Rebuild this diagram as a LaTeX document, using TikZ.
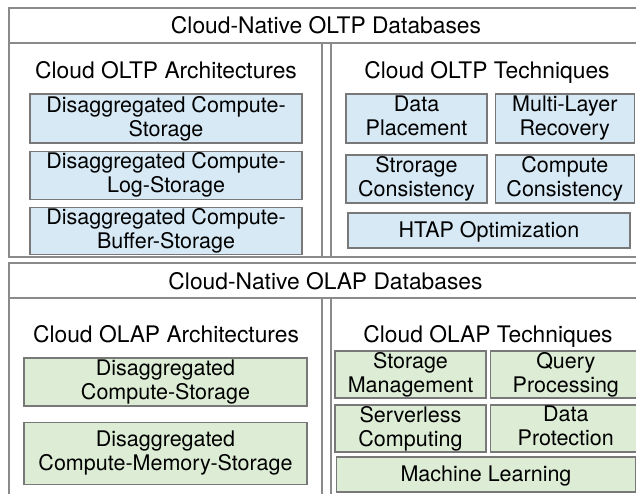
\documentclass[tikz,border=0pt]{standalone}
\usepackage{fontspec}
\setmainfont{TeX Gyre Heros}
\usetikzlibrary{positioning}
\definecolor{framegray}{RGB}{138,138,138}
\definecolor{boxgray}{RGB}{120,120,120}
\definecolor{oltpblue}{RGB}{214,233,245}
\definecolor{olapgreen}{RGB}{221,237,213}

\begin{document}
\begin{tikzpicture}[
  x=1pt, y=-1pt,
  frame/.style={draw=framegray, line width=1.6pt},
  heading/.style={font=\fontsize{22.8}{26}\selectfont, anchor=base, inner sep=0pt},
  item/.style={draw=boxgray, line width=1.3pt, inner sep=0pt, align=center, font=\fontsize{21.5}{24}\selectfont,
    execute at begin node=\rule[-5pt]{0pt}{23pt}, execute at end node=\rule[-5pt]{0pt}{23pt}},
  oltp/.style={item, fill=oltpblue},
  olap/.style={item, fill=olapgreen}
]
\useasboundingbox (0,0) rectangle (636,493);
\clip (0,0) rectangle (636,493);

% OLTP frame
\draw[frame] (9,8) rectangle (650,257);
\draw[frame] (9,43) -- (650,43);
\draw[frame] (322,43) -- (322,257);
\draw[frame] (331,43) -- (331,257);

% OLAP frame
\draw[frame] (9,263) rectangle (650,510);
\draw[frame] (9,298) -- (650,298);
\draw[frame] (322,298) -- (322,510);
\draw[frame] (331,298) -- (331,510);

% Headings
\node[heading] (oltphead) at (326,33) {Cloud-Native OLTP Databases};
\node[heading] (oltparchhead) at (166,78) {Cloud OLTP Architectures};
\node[heading] (oltptechhead) at (487,78) {Cloud OLTP Techniques};
\node[heading] (olaphead) at (325.5,289) {Cloud-Native OLAP Databases};
\node[heading] (olaparchhead) at (166,342) {Cloud OLAP Architectures};
\node[heading] (olaptechhead) at (488,342) {Cloud OLAP Techniques};

% OLTP architectures
\node[oltp, minimum width=272pt, minimum height=49pt] (cs) at (166,118.5) {Disaggregated Compute-\\Storage};
\node[oltp, minimum width=272pt, minimum height=48pt, below=7pt of cs] (cls) {Disaggregated Compute-\\Log-Storage};
\node[oltp, minimum width=272pt, minimum height=47pt, below=7pt of cls] (cbs) {Disaggregated Compute-\\Buffer-Storage};

% OLTP techniques
\node[oltp, minimum width=141pt, minimum height=49pt] (place) at (416.5,118.5) {Data\\Placement};
\node[oltp, minimum width=139pt, minimum height=49pt, right=7pt of place] (recov) {Multi-Layer\\Recovery};
\node[oltp, minimum width=141pt, minimum height=48pt] (stcons) at (416.5,179) {Strorage\\Consistency};
\node[oltp, minimum width=139pt, minimum height=48pt, right=7pt of stcons] (cmcons) {Compute\\Consistency};
\node[oltp, minimum width=282pt, minimum height=35pt] (htap) at (489,230.5) {HTAP Optimization};

% OLAP architectures
\node[olap, minimum width=283pt, minimum height=48pt] (olapcs) at (165.5,382) {Disaggregated\\Compute-Storage};
\node[olap, minimum width=283pt, minimum height=62pt, below=15pt of olapcs] (olapcms) {Disaggregated\\Compute-Memory-Storage};

% OLAP techniques
\node[olap, minimum width=151pt, minimum height=47pt] (storage) at (410.5,374.5) {Storage\\Management};
\node[olap, minimum width=151pt, minimum height=47pt, right=3pt of storage] (query) {Query\\Processing};
\node[olap, minimum width=151pt, minimum height=47pt] (serverless) at (410.5,428.5) {Serverless\\Computing};
\node[olap, minimum width=151pt, minimum height=47pt, right=3pt of serverless] (protect) {Data\\Protection};
\node[olap, minimum width=299pt, minimum height=35pt] (ml) at (486,474.5) {Machine Learning};

\end{tikzpicture}
\end{document}
